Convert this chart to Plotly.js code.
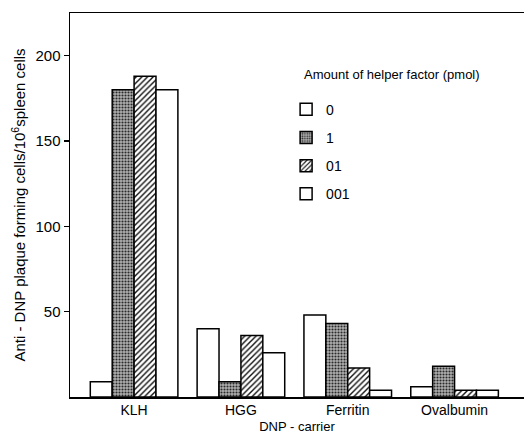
<!DOCTYPE html>
<html>
<head>
<meta charset="utf-8">
<script src="https://cdn.plot.ly/plotly-3.0.1.min.js"></script>
<style>html,body{margin:0;padding:0;background:#fff;}#chart{width:529px;height:439px;}</style>
</head>
<body>
<div id="chart"></div>
<script>
const carriers = ["KLH", "HGG", "Ferritin", "Ovalbumin"];
const seriesNames = ["0", "1", "01", "001"];
const values0 = [9, 40, 48, 6];
const values1 = [180, 9, 43, 18];
const values01 = [188, 36, 17, 4];
const values001 = [180, 26, 4, 4];
const yTicks = [50, 100, 150, 200];
const legendTitle = "Amount of helper factor (pmol)";

const allValues = [values0, values1, values01, values001];
const patterns = [
  {shape: "", bgcolor: "#ffffff"},
  {shape: ".", fgcolor: "#2a2a2a", bgcolor: "#b0b0b0", size: 3, solidity: 0.4, fillmode: "replace"},
  {shape: "/", fgcolor: "#111111", bgcolor: "#ffffff", size: 4, solidity: 0.35, fillmode: "replace"},
  {shape: "", bgcolor: "#ffffff"}
];
const fills = ["#ffffff", "#9a9a9a", "#ffffff", "#ffffff"];

const traces = seriesNames.map((n, i) => ({
  type: "bar",
  name: n,
  x: carriers,
  y: allValues[i],
  legendgroup: "g" + i,
  marker: {
    color: fills[i],
    line: {color: "#000", width: 1.5},
    pattern: patterns[i]
  },
  hoverinfo: "skip"
}));

const layout = {
  width: 529, height: 439,
  margin: {l: 70, r: 5, t: 13, b: 42},
  paper_bgcolor: "#fff", plot_bgcolor: "#fff",
  font: {family: "Liberation Sans, Arial, sans-serif", size: 14, color: "#000"},
  barmode: "group",
  bargap: 0.18,
  bargroupgap: 0,
  showlegend: true,
  legend: {
    x: 0.476, y: 0.79, xanchor: "left", yanchor: "top",
    bgcolor: "rgba(0,0,0,0)",
    font: {size: 14},
    traceorder: "grouped",
    tracegroupgap: 7,
    itemwidth: 30
  },
  annotations: [{
    text: legendTitle, xref: "paper", yref: "paper",
    x: 0.511, y: 0.839, xanchor: "left", yanchor: "middle",
    showarrow: false, font: {size: 13}
  }],
  xaxis: {
    range: [-0.6, 3.65],
    showline: true, linecolor: "#000", linewidth: 1.5,
    mirror: true,
    ticks: "",
    showgrid: false, zeroline: false,
    tickfont: {size: 14},
    title: {text: "DNP - carrier", font: {size: 13}, standoff: 4}
  },
  yaxis: {
    range: [0, 225],
    showline: true, linecolor: "#000", linewidth: 1.5,
    ticks: "outside", ticklen: 5, tickwidth: 1.5, tickcolor: "#000",
    tickvals: yTicks,
    showgrid: false, zeroline: false,
    tickfont: {size: 15},
    title: {text: "Anti - DNP plaque forming cells/10<sup>6</sup>spleen cells", font: {size: 15}, standoff: 6}
  }
};

Plotly.newPlot("chart", traces, layout, {staticPlot: true, displayModeBar: false});
</script>
</body>
</html>
